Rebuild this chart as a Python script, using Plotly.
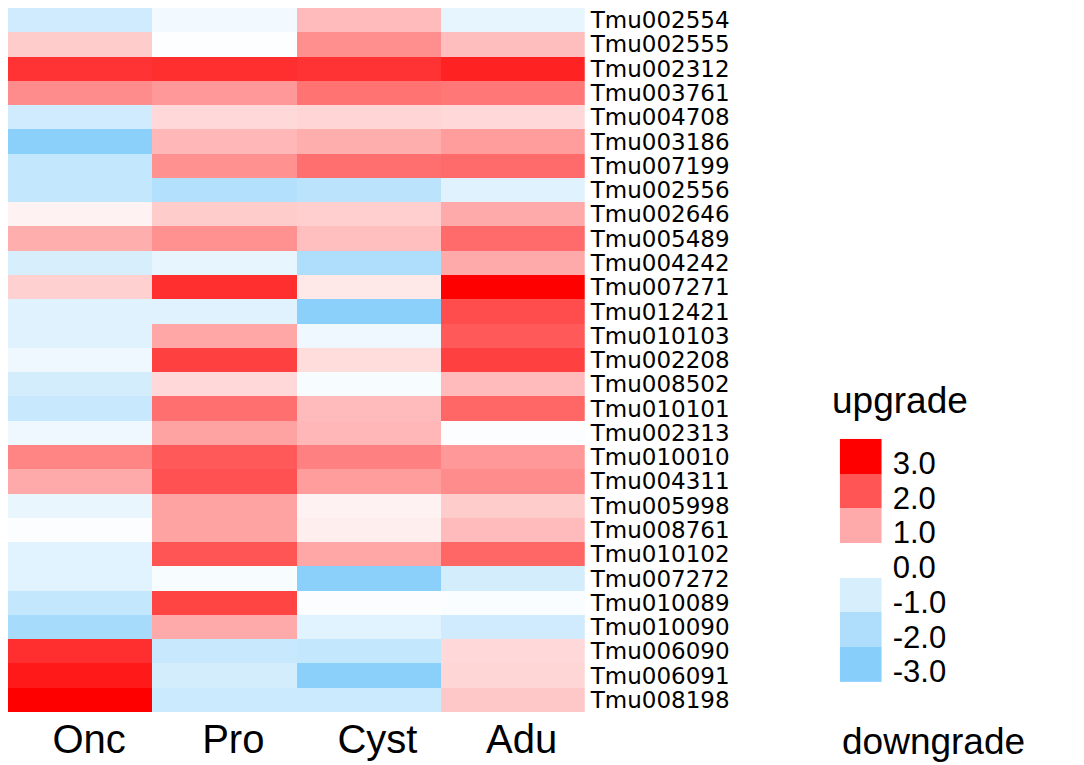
import plotly.graph_objects as go

stages = ["Onc", "Pro", "Cyst", "Adu"]
genes = ["Tmu002554", "Tmu002555", "Tmu002312", "Tmu003761", "Tmu004708",
         "Tmu003186", "Tmu007199", "Tmu002556", "Tmu002646", "Tmu005489",
         "Tmu004242", "Tmu007271", "Tmu012421", "Tmu010103", "Tmu002208",
         "Tmu008502", "Tmu010101", "Tmu002313", "Tmu010010", "Tmu004311",
         "Tmu005998", "Tmu008761", "Tmu010102", "Tmu007272", "Tmu010089",
         "Tmu010090", "Tmu006090", "Tmu006091", "Tmu008198"]

onc = [-1.2, 0.6, 2.4, 1.35, -1.2, -2.9, -1.5, -1.5, 0.15, 0.95,
       -1.0, 0.55, -0.8, -0.8, -0.4, -1.1, -1.4, -0.4, 1.45, 1.0,
       -0.55, -0.1, -0.75, -0.75, -1.5, -2.2, 2.45, 2.7, 3.0]
pro = [-0.3, -0.05, 2.45, 1.2, 0.45, 0.85, 1.3, -1.9, 0.6, 1.3,
       -0.6, 2.45, -0.8, 1.05, 2.25, 0.45, 1.7, 1.1, 1.95, 2.05,
       1.1, 1.1, 2.0, -0.2, 2.2, 1.0, -1.4, -1.1, -1.3]
cyst = [0.8, 1.33, 2.4, 1.65, 0.5, 0.95, 1.7, -1.7, 0.57, 0.75,
        -2.0, 0.27, -2.9, -0.4, 0.4, -0.2, 0.8, 0.85, 1.5, 1.15,
        0.15, 0.2, 1.05, -2.9, -0.1, -0.75, -1.5, -2.9, -1.3]
adu = [-0.6, 0.77, 2.6, 1.6, 0.45, 1.15, 1.75, -0.8, 1.0, 1.75,
       1.0, 3.0, 2.1, 1.95, 2.25, 0.8, 1.8, -0.1, 1.2, 1.35,
       0.6, 0.8, 1.8, -1.1, -0.15, -1.2, 0.45, 0.48, 0.65]

legend_values = [-3, -2, -1, 0, 1, 2, 3]
legend_labels = ["-3.0", "-2.0", "-1.0", "0.0", "1.0", "2.0", "3.0"]

colorscale = [[0.0, "#87CEFA"], [0.5, "#FFFFFF"], [1.0, "#FF0000"]]

z = [[onc[i], pro[i], cyst[i], adu[i]] for i in range(len(genes))]

font_family = "Liberation Sans, Arial, sans-serif"

fig = go.Figure()
fig.add_trace(go.Heatmap(
    z=z, x=stages, y=genes, colorscale=colorscale, zmin=-3, zmax=3,
    showscale=False, xaxis="x", yaxis="y",
))
fig.add_trace(go.Heatmap(
    z=[[v] for v in legend_values], x=[0], y=list(range(len(legend_values))),
    colorscale=colorscale, zmin=-3, zmax=3, showscale=False,
    xaxis="x2", yaxis="y2", hoverinfo="skip",
))

fig.update_layout(
    width=1076, height=757,
    margin=dict(l=0, r=0, t=0, b=53),
    paper_bgcolor="white", plot_bgcolor="white",
    font=dict(family=font_family, color="black"),
    xaxis=dict(domain=[0, 0.536], showgrid=False, zeroline=False, showline=False,
               ticks="", tickfont=dict(size=40), ticklabelshift=9,
               ticklabelstandoff=0, fixedrange=True),
    yaxis=dict(side="right", autorange="reversed", showgrid=False, zeroline=False,
               showline=False, ticks="", anchor="x",
               tickfont=dict(size=23, family="DejaVu Sans, sans-serif"),
               tickmode="array", tickvals=genes, ticktext=genes,
               ticklabelstandoff=5),
    xaxis2=dict(domain=[0.773, 0.812], anchor="y2", visible=False),
    yaxis2=dict(domain=[0.0426, 0.388], anchor="x2", side="right",
                range=[-0.5, 6.5], showgrid=False, zeroline=False, showline=False,
                ticks="", tickvals=[i - 0.2 for i in range(len(legend_values))],
                ticktext=legend_labels, tickfont=dict(size=31),
                ticklabelstandoff=10),
    annotations=[
        dict(text="upgrade", x=0.764, y=0.443, xref="paper", yref="paper",
             xanchor="left", yanchor="middle", showarrow=False, font=dict(size=37)),
        dict(text="downgrade", x=0.773, y=-0.0426, xref="paper", yref="paper",
             xanchor="left", yanchor="middle", showarrow=False, font=dict(size=37)),
    ],
)

fig.write_html("out.html")
